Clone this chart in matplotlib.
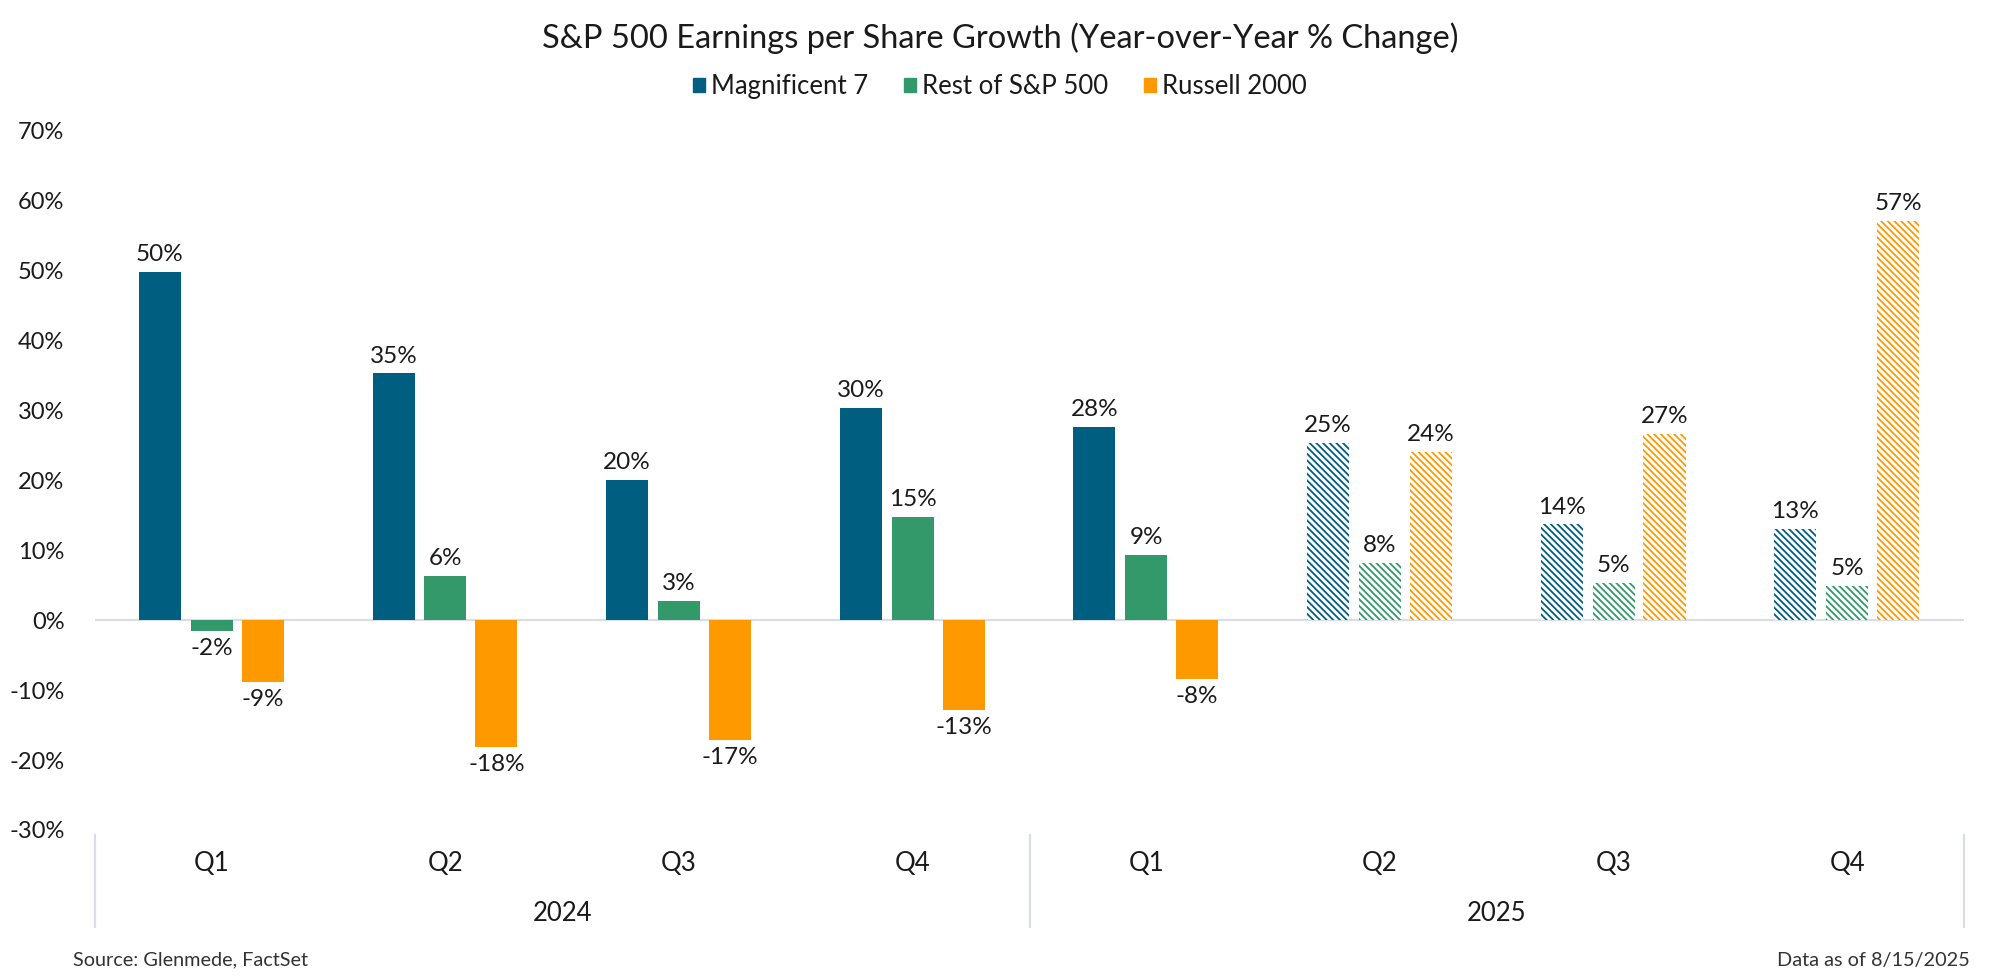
import matplotlib
matplotlib.use("Agg")
import matplotlib.pyplot as plt
import numpy as np
from matplotlib.patches import Patch
from matplotlib.lines import Line2D
import matplotlib.transforms as mtransforms

plt.rcParams['font.family'] = ['Lato', 'DejaVu Sans']
plt.rcParams['hatch.linewidth'] = 1.3

# data
quarters = ['Q1', 'Q2', 'Q3', 'Q4', 'Q1', 'Q2', 'Q3', 'Q4']
years = ['2024', '2025']
year_span = [(0, 3), (4, 7)]
series = ['Magnificent 7', 'Rest of S&P 500', 'Russell 2000']
mag7 = [49.8, 35.3, 20.1, 30.3, 27.6, 25.4, 13.7, 13.1]
rest = [-1.6, 6.4, 2.7, 14.8, 9.3, 8.2, 5.3, 4.9]
russell = [-8.8, -18.2, -17.2, -12.8, -8.4, 24.1, 26.6, 57.1]
labels_mag7 = ['50%', '35%', '20%', '30%', '28%', '25%', '14%', '13%']
labels_rest = ['-2%', '6%', '3%', '15%', '9%', '8%', '5%', '5%']
labels_russell = ['-9%', '-18%', '-17%', '-13%', '-8%', '24%', '27%', '57%']
estimate = [False, False, False, False, False, True, True, True]  # hatched = estimates
yticks = [-30, -20, -10, 0, 10, 20, 30, 40, 50, 60, 70]

colors = ['#005E80', '#33996A', '#FF9900']
txt = '#1a1a1a'

fig = plt.figure(figsize=(20, 9.77), dpi=100)
ax = fig.add_axes([0.0475, 0.1505, 0.9345, 0.7155])

x = np.arange(len(quarters))
w = 0.18
offs = [-0.222, 0.0, 0.218]
allvals = [mag7, rest, russell]
alllabels = [labels_mag7, labels_rest, labels_russell]

for s in range(3):
    for i in range(len(x)):
        v = allvals[s][i]
        if estimate[i]:
            ax.bar(x[i] + offs[s], v, w, facecolor='white', edgecolor=colors[s],
                   linewidth=0, hatch='\\\\\\\\\\', zorder=3)
        else:
            ax.bar(x[i] + offs[s], v, w, color=colors[s], linewidth=0, zorder=3)
        if v >= 0:
            ax.annotate(alllabels[s][i], (x[i] + offs[s], v), xytext=(0, 5),
                        textcoords='offset points', ha='center', va='bottom',
                        fontsize=17.5, color=txt)
        else:
            ax.annotate(alllabels[s][i], (x[i] + offs[s], v), xytext=(0, -5),
                        textcoords='offset points', ha='center', va='top',
                        fontsize=17.5, color=txt)

ax.axhline(0, color='#DADEE4', lw=1.6, zorder=2)
ax.set_xlim(-0.5, len(x) - 0.5)
ax.set_ylim(-30, 70)
ax.set_yticks(yticks)
ax.set_yticklabels([f'{t}%' for t in yticks], fontsize=17, color=txt)
ax.tick_params(axis='y', length=0, pad=22)
ax.set_xticks([])
for sp in ax.spines.values():
    sp.set_visible(False)

# category axis (quarters + years) drawn by hand
trans = mtransforms.blended_transform_factory(ax.transData, fig.transFigure)
for i, q in enumerate(quarters):
    ax.text(x[i], 0.1157, q, transform=trans, ha='center', va='center',
            fontsize=18.5, color=txt)
for yr, (a, b) in zip(years, year_span):
    ax.text((a + b) / 2, 0.0655, yr, transform=trans, ha='center', va='center',
            fontsize=18.5, color=txt)
for xs in [-0.5, 3.5, 7.5]:
    fig.add_artist(Line2D([xs, xs], [0.1455, 0.051], transform=trans,
                          color='#DADEE4', lw=1.6))

fig.text(0.5, 0.961, 'S&P 500 Earnings per Share Growth (Year-over-Year % Change)',
         ha='center', va='center', fontsize=23.5, color=txt)

handles = [Patch(color=c) for c in colors]
fig.legend(handles, series, loc='center', bbox_to_anchor=(0.5, 0.911), ncol=3,
           frameon=False, fontsize=18.5, handlelength=0.45, handleheight=0.45,
           handletextpad=0.25, columnspacing=1.4, labelcolor=txt)

fig.text(0.0365, 0.0174, 'Source: Glenmede, FactSet', ha='left', va='center',
         fontsize=14.3, color='#333333')
fig.text(0.985, 0.0174, 'Data as of 8/15/2025', ha='right', va='center',
         fontsize=14.3, color='#333333')

fig.savefig('out.png', dpi=100)
